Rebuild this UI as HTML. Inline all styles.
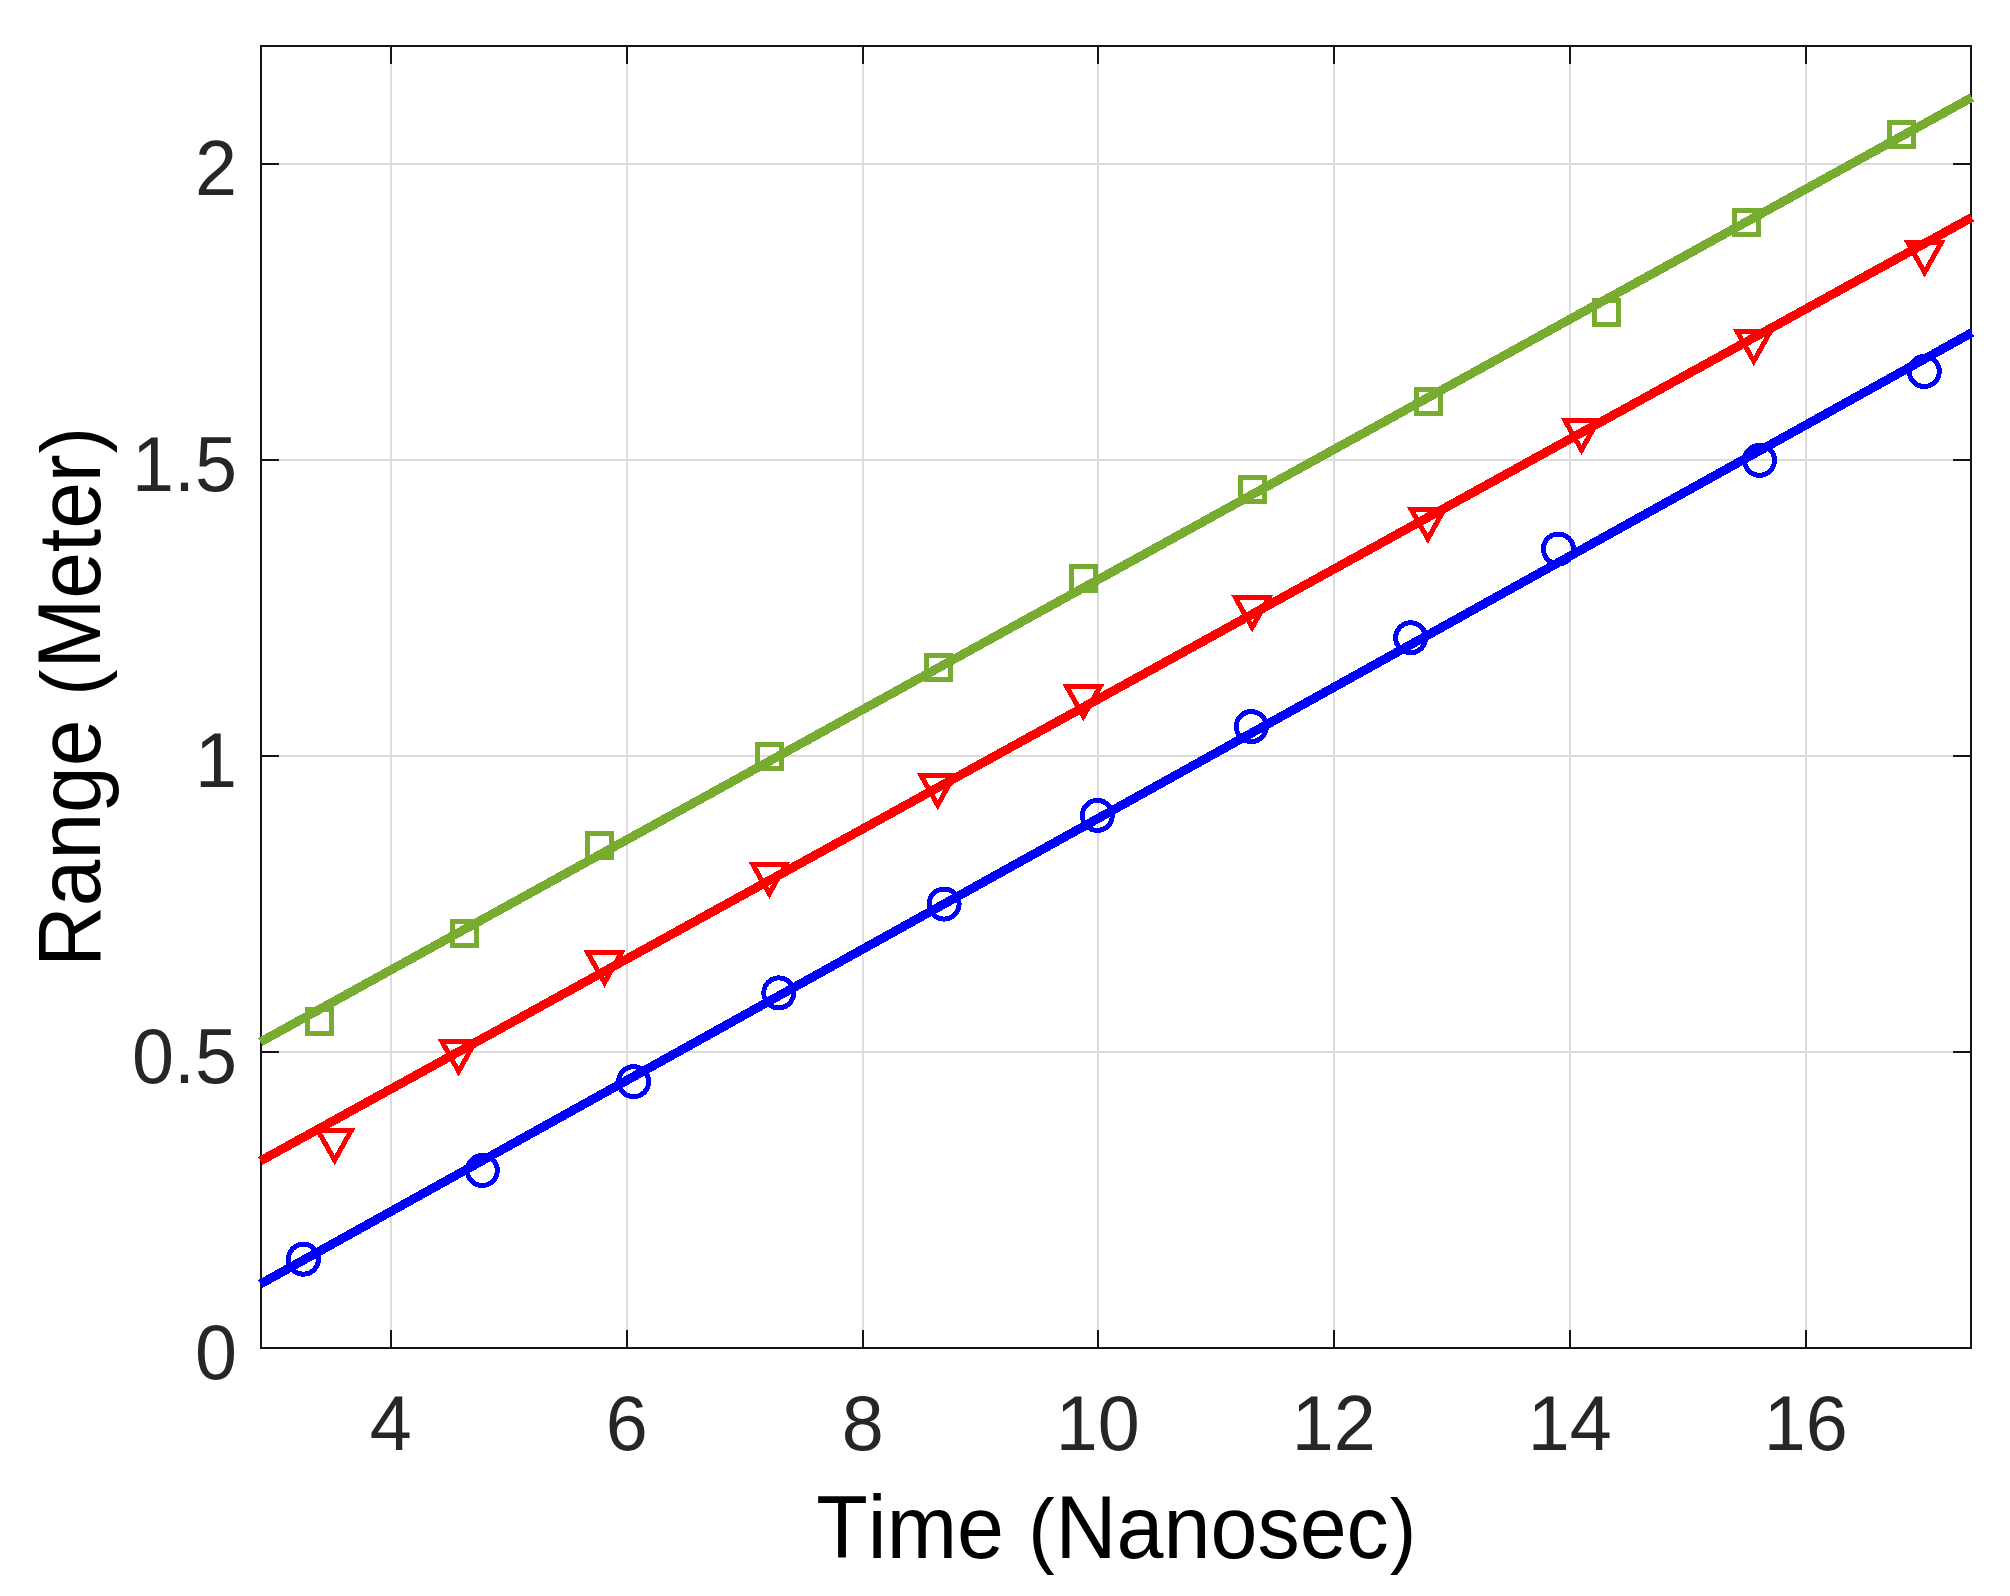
<!DOCTYPE html>
<html lang="en">
<head>
<meta charset="utf-8">
<title>Range vs Time</title>
<style>
html,body{margin:0;padding:0;background:#ffffff;}
body{width:2010px;height:1596px;overflow:hidden;}
svg{display:block;}
text{font-family:"Liberation Sans",sans-serif;font-kerning:none;}
</style>
</head>
<body>
<svg width="2010" height="1596" viewBox="0 0 2010 1596">
<rect width="2010" height="1596" fill="#ffffff"/>
<g fill="#dcdcdc" shape-rendering="crispEdges">
<rect x="390" y="46" width="2" height="1302"/>
<rect x="626" y="46" width="2" height="1302"/>
<rect x="862" y="46" width="2" height="1302"/>
<rect x="1097" y="46" width="2" height="1302"/>
<rect x="1333" y="46" width="2" height="1302"/>
<rect x="1569" y="46" width="2" height="1302"/>
<rect x="1805" y="46" width="2" height="1302"/>
<rect x="261" y="1051" width="1710" height="2"/>
<rect x="261" y="755" width="1710" height="2"/>
<rect x="261" y="459" width="1710" height="2"/>
<rect x="261" y="163" width="1710" height="2"/>
</g>
<g fill="#151515" shape-rendering="crispEdges">
<rect x="260" y="45" width="1712" height="2"/>
<rect x="260" y="1347" width="1712" height="2"/>
<rect x="260" y="45" width="2" height="1304"/>
<rect x="1970" y="45" width="2" height="1304"/>
<rect x="390" y="1330.0" width="2" height="18.0"/>
<rect x="390" y="46" width="2" height="18.0"/>
<rect x="626" y="1330.0" width="2" height="18.0"/>
<rect x="626" y="46" width="2" height="18.0"/>
<rect x="862" y="1330.0" width="2" height="18.0"/>
<rect x="862" y="46" width="2" height="18.0"/>
<rect x="1097" y="1330.0" width="2" height="18.0"/>
<rect x="1097" y="46" width="2" height="18.0"/>
<rect x="1333" y="1330.0" width="2" height="18.0"/>
<rect x="1333" y="46" width="2" height="18.0"/>
<rect x="1569" y="1330.0" width="2" height="18.0"/>
<rect x="1569" y="46" width="2" height="18.0"/>
<rect x="1805" y="1330.0" width="2" height="18.0"/>
<rect x="1805" y="46" width="2" height="18.0"/>
<rect x="261" y="1051" width="18.0" height="2"/>
<rect x="1953.0" y="1051" width="18.0" height="2"/>
<rect x="261" y="755" width="18.0" height="2"/>
<rect x="1953.0" y="755" width="18.0" height="2"/>
<rect x="261" y="459" width="18.0" height="2"/>
<rect x="1953.0" y="459" width="18.0" height="2"/>
<rect x="261" y="163" width="18.0" height="2"/>
<rect x="1953.0" y="163" width="18.0" height="2"/>
</g>
<g stroke="#0000ff" fill="none" shape-rendering="crispEdges">
<line x1="260.4" y1="1284.0" x2="1972.0" y2="332.6" stroke-width="9.0"/>
<g stroke-width="5.0" stroke-linejoin="miter">
<circle cx="303.4" cy="1259.2" r="15"/>
<circle cx="482.3" cy="1170.5" r="15"/>
<circle cx="633.7" cy="1081.7" r="15"/>
<circle cx="778.7" cy="992.9" r="15"/>
<circle cx="944.1" cy="904.1" r="15"/>
<circle cx="1097.3" cy="815.4" r="15"/>
<circle cx="1251.3" cy="726.6" r="15"/>
<circle cx="1410.7" cy="637.8" r="15"/>
<circle cx="1558.4" cy="549.0" r="15"/>
<circle cx="1759.5" cy="460.3" r="15"/>
<circle cx="1924.3" cy="371.5" r="15"/>
</g></g>
<g stroke="#ff0000" fill="none" shape-rendering="crispEdges">
<line x1="260.4" y1="1161.0" x2="1971.9" y2="217.4" stroke-width="9.0"/>
<g stroke-width="5.0" stroke-linejoin="miter">
<path d="M317.9 1130.4H351.3L334.6 1160.2Z"/>
<path d="M441.9 1041.6H475.3L458.6 1071.4Z"/>
<path d="M587.8 952.8H621.2L604.5 982.6Z"/>
<path d="M752.6 864.0H786.0L769.3 893.8Z"/>
<path d="M921.0 775.3H954.4L937.7 805.1Z"/>
<path d="M1066.7 686.5H1100.1L1083.4 716.3Z"/>
<path d="M1235.5 597.7H1268.9L1252.2 627.5Z"/>
<path d="M1411.1 509.0H1444.5L1427.8 538.8Z"/>
<path d="M1564.8 420.2H1598.2L1581.5 450.0Z"/>
<path d="M1737.1 331.4H1770.5L1753.8 361.2Z"/>
<path d="M1907.9 242.6H1941.3L1924.6 272.4Z"/>
</g></g>
<g stroke="#77ac30" fill="none" shape-rendering="crispEdges">
<line x1="260.4" y1="1042.0" x2="1971.9" y2="97.4" stroke-width="9.0"/>
<g stroke-width="5.0" stroke-linejoin="miter">
<rect x="307.5" y="1009.5" width="24" height="24"/>
<rect x="452.9" y="921.7" width="24" height="24"/>
<rect x="587.2" y="833.0" width="24" height="24"/>
<rect x="757.1" y="744.2" width="24" height="24"/>
<rect x="926.1" y="655.4" width="24" height="24"/>
<rect x="1071.7" y="566.6" width="24" height="24"/>
<rect x="1240.5" y="477.9" width="24" height="24"/>
<rect x="1416.6" y="389.1" width="24" height="24"/>
<rect x="1594.6" y="300.3" width="24" height="24"/>
<rect x="1734.6" y="210.5" width="24" height="24"/>
<rect x="1889.7" y="122.8" width="24" height="24"/>
</g></g>
<g font-size="75.5" fill="#262626">
<text transform="translate(390.8 1450) scale(1 1.04)" text-anchor="middle">4</text>
<text transform="translate(626.8 1450) scale(1 1.04)" text-anchor="middle">6</text>
<text transform="translate(862.8 1450) scale(1 1.04)" text-anchor="middle">8</text>
<text transform="translate(1097.8 1450) scale(1 1.04)" text-anchor="middle">10</text>
<text transform="translate(1333.8 1450) scale(1 1.04)" text-anchor="middle">12</text>
<text transform="translate(1569.8 1450) scale(1 1.04)" text-anchor="middle">14</text>
<text transform="translate(1805.8 1450) scale(1 1.04)" text-anchor="middle">16</text>
<text transform="translate(237 1378.6) scale(1 1.04)" text-anchor="end">0</text>
<text transform="translate(237 1082.7) scale(1 1.04)" text-anchor="end">0.5</text>
<text transform="translate(237 786.8) scale(1 1.04)" text-anchor="end">1</text>
<text transform="translate(237 490.9) scale(1 1.04)" text-anchor="end">1.5</text>
<text transform="translate(237 195.0) scale(1 1.04)" text-anchor="end">2</text>
</g>
<g font-size="85" fill="#000000">
<text transform="translate(1116.2 1557.6) scale(0.9938 1.043)" text-anchor="middle">Time <tspan font-size="80" dx="0.8">(</tspan><tspan dx="0.8">Nanosec</tspan><tspan font-size="80" dx="0.8">)</tspan></text>
<text transform="translate(100.2 697) rotate(-90) scale(0.9865 1.043)" text-anchor="middle">Range <tspan font-size="80" dx="0.8">(</tspan><tspan dx="0.8">Meter</tspan><tspan font-size="80" dx="0.8">)</tspan></text>
</g>
</svg>
</body>
</html>
